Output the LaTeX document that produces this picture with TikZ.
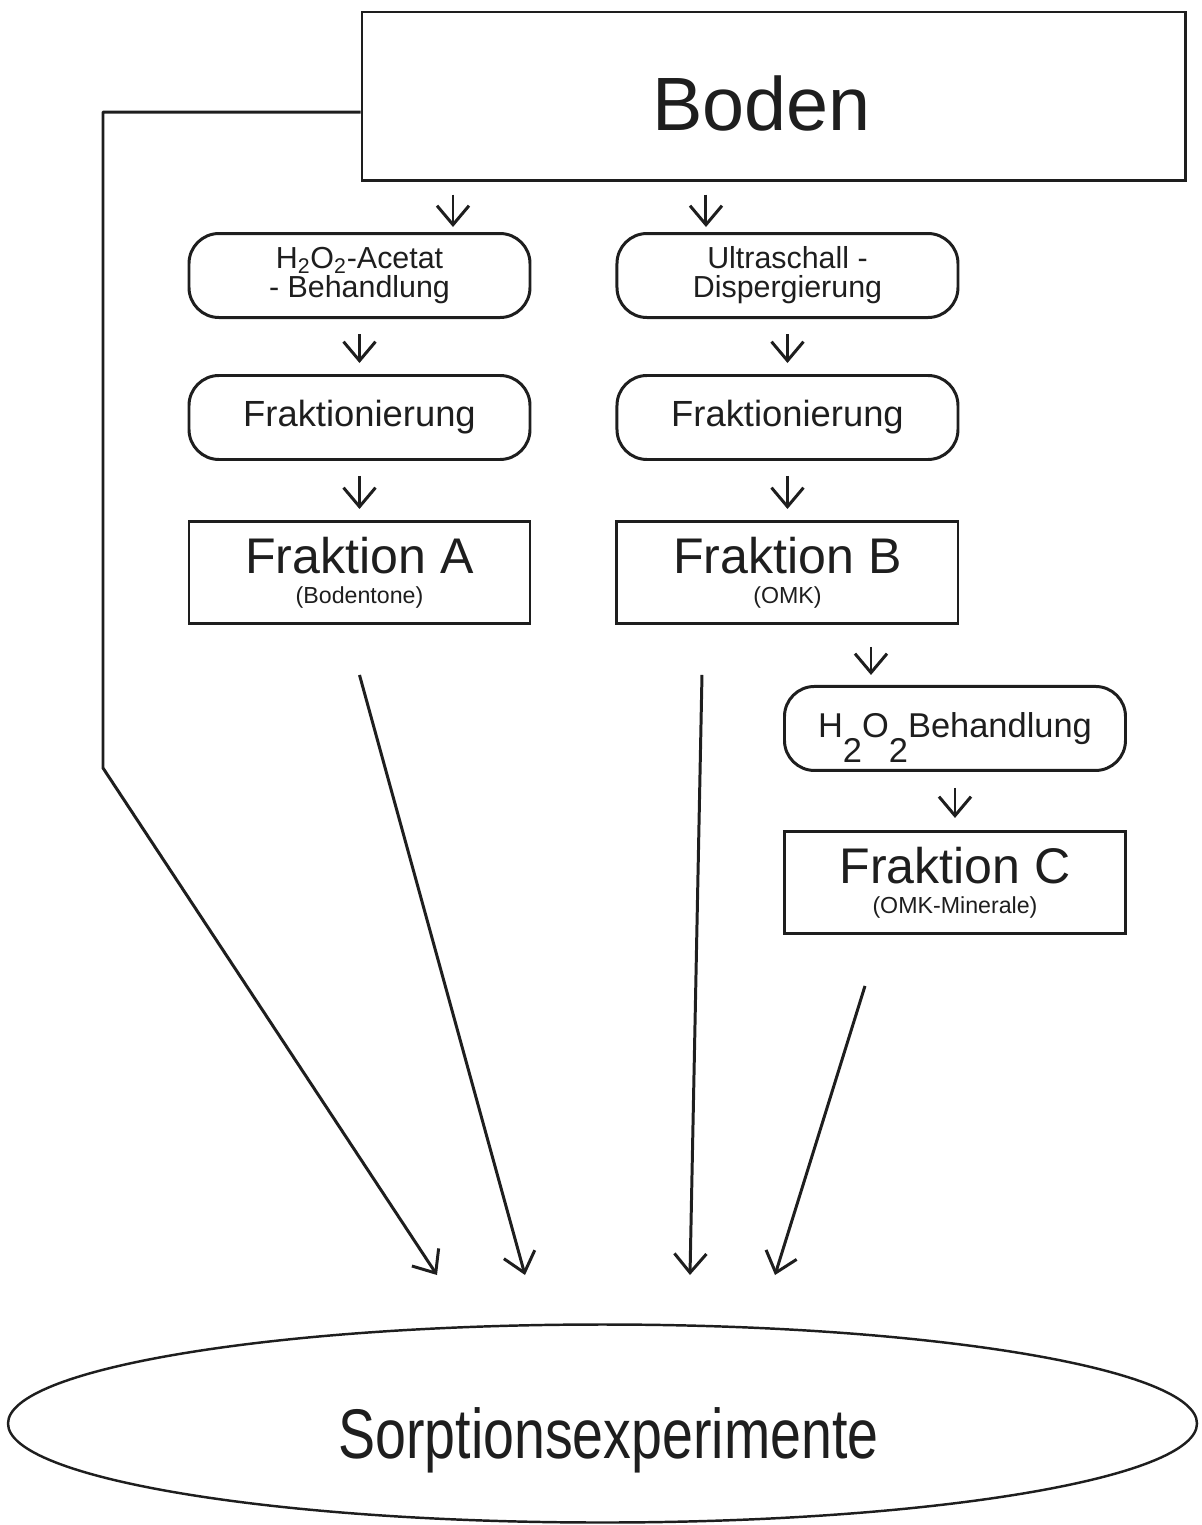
\documentclass[tikz,border=0pt]{standalone}
\usepackage{fontspec}
\setmainfont{Liberation Sans}
\newfontfamily\narrowsans[FakeStretch=0.79]{Liberation Sans}
\usepackage{tikz}
\usetikzlibrary{arrows.meta,positioning,shapes.geometric}
\usepackage{xcolor}
\definecolor{ink}{HTML}{1e1e1e}

\begin{document}
\begin{tikzpicture}[
  box/.style={draw=ink,line width=1.7pt,inner sep=0pt,minimum width=6.82cm,minimum height=2.04cm,align=center,font=\fontsize{13.2}{17}\selectfont},
  proc/.style={draw=ink,line width=1.7pt,rounded corners=0.6cm,inner sep=0pt,minimum width=6.82cm,minimum height=1.68cm,align=center,font=\fontsize{17.3}{16.5}\selectfont},
  arr/.style={-{Straight Barb[length=0.38cm,width=0.64cm]},ink,line width=1.7pt},
  step arr/.style={arr,shorten <=0.3cm,shorten >=0.22cm},
  every node/.style={text=ink}]
 \useasboundingbox (0,0) rectangle (24.04,-30.5);
 \node[draw=ink,line width=1.7pt,minimum width=16.46cm,minimum height=3.36cm,text height=1.36cm,text depth=0pt,font=\fontsize{43}{45}\selectfont] (boden) at (15.47,-1.92) {Boden\hspace*{0.48cm}};
 \node[proc] (beh) at (7.19,-5.51) {H\textsubscript{2}O\textsubscript{2}-Acetat\\- Behandlung};
 \node[proc,right=1.68cm of beh] (ultra) {Ultraschall -\\Dispergierung};
 \node[proc,below=1.1cm of beh,font=\fontsize{20.7}{22}\selectfont] (frakA) {Fraktionierung};
 \node[proc,below=1.1cm of ultra,font=\fontsize{20.7}{22}\selectfont] (frakB) {Fraktionierung};
 \node[box,below=1.18cm of frakA] (fa) {{\fontsize{28.5}{30}\selectfont Fraktion A}\\(Bodentone)};
 \node[box,below=1.18cm of frakB] (fb) {{\fontsize{28.5}{30}\selectfont Fraktion B}\\(OMK)};
 \node[proc,below=1.2cm of fb,xshift=3.35cm,font=\fontsize{19.6}{21}\selectfont] (h2o2) {H\smash{\raisebox{-0.72em}{2}}O\smash{\raisebox{-0.72em}{2}}Behandlung};
 \node[box,below=1.16cm of h2o2] (fc) {{\fontsize{28.5}{30}\selectfont Fraktion C}\\(OMK-Minerale)};
 \node[draw=ink,line width=1.4pt,ellipse,inner sep=0pt,minimum width=23.78cm,minimum height=3.96cm,text height=1.41cm,text depth=0pt,font=\narrowsans\fontsize{40}{42}\selectfont] (sorp) at (12.05,-28.47) {\hspace*{0.24cm}Sorptionsexperimente};
 \coordinate (bend) at (2.06,-15.36);
 \coordinate (tipL) at (8.74,-25.5);
 \coordinate (tipA) at (10.5,-25.5);
 \coordinate (tipB) at (13.8,-25.5);
 \coordinate (tipC) at (15.5,-25.5);
 \draw[arr,shorten <=0.26cm,shorten >=0.1cm] ([xshift=1.87cm]beh.north |- boden.south) -- ([xshift=1.87cm]beh.north);
 \draw[arr,shorten <=0.26cm,shorten >=0.1cm] ([xshift=-1.63cm]ultra.north |- boden.south) -- ([xshift=-1.63cm]ultra.north);
 \draw[step arr] (beh) -- (frakA);
 \draw[step arr] (ultra) -- (frakB);
 \draw[step arr] (frakA) -- (fa);
 \draw[step arr] (frakB) -- (fb);
 \draw[arr,shorten <=0.44cm,shorten >=0.2cm] ([xshift=-1.68cm]h2o2.north |- fb.south) -- ([xshift=-1.68cm]h2o2.north);
 \draw[arr,shorten <=0.32cm,shorten >=0.24cm] (h2o2) -- (fc);
 \draw[arr,line join=round] ([yshift=-0.32cm]boden.west) -| (bend) -- (tipL);
 \draw[arr] ([yshift=-1cm]fa.south) -- (tipA);
 \draw[arr] ([xshift=-1.71cm,yshift=-1cm]fb.south) -- (tipB);
 \draw[arr] ([xshift=-1.8cm,yshift=-1.02cm]fc.south) -- (tipC);
\end{tikzpicture}
\end{document}
